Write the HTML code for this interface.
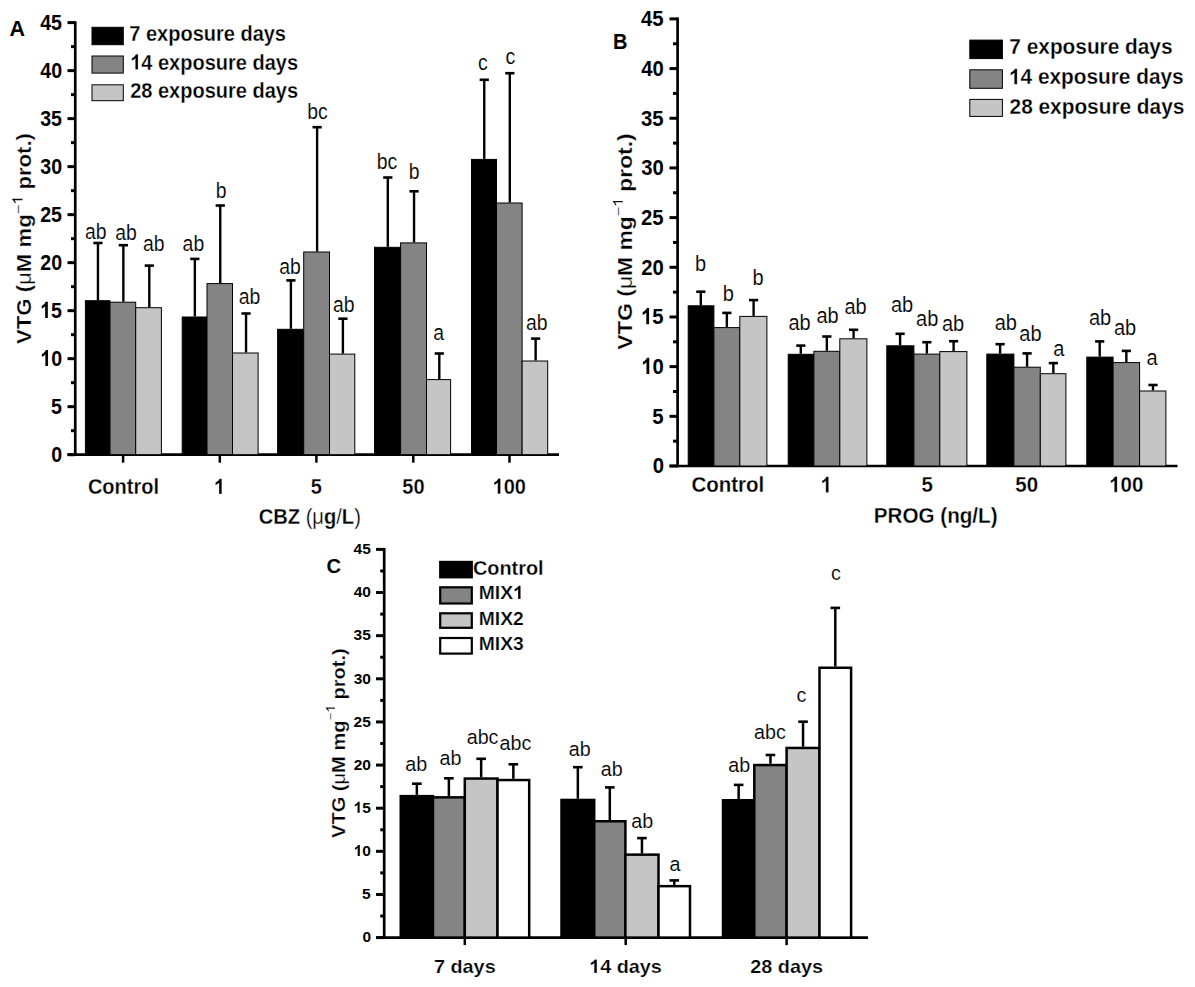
<!DOCTYPE html>
<html><head><meta charset="utf-8"><style>
html,body{margin:0;padding:0;background:#fff;}
svg{display:block;}
text{font-family:"Liberation Sans",sans-serif;stroke:#fff;stroke-width:0.25px;}
text.r{stroke-width:0.12px;}
text.nb{stroke:none;}
tspan.one{fill:none;stroke:none;}
</style></head><body>
<svg width="1195" height="987" viewBox="0 0 1195 987" font-family="Liberation Sans, sans-serif">
<rect x="0" y="0" width="1195" height="987" fill="#fff"/>
<line x1="75.25" y1="21.30" x2="75.25" y2="456.00" stroke="#000" stroke-width="2.7"/>
<line x1="67.50" y1="454.70" x2="75.25" y2="454.70" stroke="#000" stroke-width="3.0"/>
<line x1="67.50" y1="406.69" x2="75.25" y2="406.69" stroke="#000" stroke-width="3.0"/>
<line x1="67.50" y1="358.68" x2="75.25" y2="358.68" stroke="#000" stroke-width="3.0"/>
<line x1="67.50" y1="310.67" x2="75.25" y2="310.67" stroke="#000" stroke-width="3.0"/>
<line x1="67.50" y1="262.66" x2="75.25" y2="262.66" stroke="#000" stroke-width="3.0"/>
<line x1="67.50" y1="214.64" x2="75.25" y2="214.64" stroke="#000" stroke-width="3.0"/>
<line x1="67.50" y1="166.63" x2="75.25" y2="166.63" stroke="#000" stroke-width="3.0"/>
<line x1="67.50" y1="118.62" x2="75.25" y2="118.62" stroke="#000" stroke-width="3.0"/>
<line x1="67.50" y1="70.61" x2="75.25" y2="70.61" stroke="#000" stroke-width="3.0"/>
<line x1="67.50" y1="22.60" x2="75.25" y2="22.60" stroke="#000" stroke-width="3.0"/>
<line x1="71.00" y1="430.69" x2="75.25" y2="430.69" stroke="#000" stroke-width="3.0"/>
<line x1="71.00" y1="382.68" x2="75.25" y2="382.68" stroke="#000" stroke-width="3.0"/>
<line x1="71.00" y1="334.67" x2="75.25" y2="334.67" stroke="#000" stroke-width="3.0"/>
<line x1="71.00" y1="286.66" x2="75.25" y2="286.66" stroke="#000" stroke-width="3.0"/>
<line x1="71.00" y1="238.65" x2="75.25" y2="238.65" stroke="#000" stroke-width="3.0"/>
<line x1="71.00" y1="190.64" x2="75.25" y2="190.64" stroke="#000" stroke-width="3.0"/>
<line x1="71.00" y1="142.63" x2="75.25" y2="142.63" stroke="#000" stroke-width="3.0"/>
<line x1="71.00" y1="94.62" x2="75.25" y2="94.62" stroke="#000" stroke-width="3.0"/>
<line x1="71.00" y1="46.61" x2="75.25" y2="46.61" stroke="#000" stroke-width="3.0"/>
<line x1="67.50" y1="454.70" x2="559.00" y2="454.70" stroke="#000" stroke-width="2.7"/>
<line x1="123.10" y1="454.70" x2="123.10" y2="462.70" stroke="#000" stroke-width="2.5"/>
<line x1="219.80" y1="454.70" x2="219.80" y2="462.70" stroke="#000" stroke-width="2.5"/>
<line x1="316.40" y1="454.70" x2="316.40" y2="462.70" stroke="#000" stroke-width="2.5"/>
<line x1="413.30" y1="454.70" x2="413.30" y2="462.70" stroke="#000" stroke-width="2.5"/>
<line x1="509.50" y1="454.70" x2="509.50" y2="462.70" stroke="#000" stroke-width="2.5"/>
<line x1="97.95" y1="300.20" x2="97.95" y2="243.00" stroke="#000" stroke-width="2.4"/>
<line x1="93.35" y1="243.00" x2="102.55" y2="243.00" stroke="#000" stroke-width="2.6"/>
<line x1="123.35" y1="301.70" x2="123.35" y2="245.20" stroke="#000" stroke-width="2.4"/>
<line x1="118.75" y1="245.20" x2="127.95" y2="245.20" stroke="#000" stroke-width="2.6"/>
<line x1="149.30" y1="307.20" x2="149.30" y2="265.60" stroke="#000" stroke-width="2.4"/>
<line x1="144.70" y1="265.60" x2="153.90" y2="265.60" stroke="#000" stroke-width="2.6"/>
<rect x="85.40" y="300.70" width="24.60" height="154.00" fill="#000000" stroke="#000" stroke-width="1.0"/>
<rect x="110.00" y="302.20" width="25.70" height="152.50" fill="#848484" stroke="#000" stroke-width="1.0"/>
<rect x="135.70" y="307.70" width="25.70" height="147.00" fill="#c5c5c5" stroke="#000" stroke-width="1.0"/>
<line x1="194.85" y1="316.50" x2="194.85" y2="258.90" stroke="#000" stroke-width="2.4"/>
<line x1="190.25" y1="258.90" x2="199.45" y2="258.90" stroke="#000" stroke-width="2.6"/>
<line x1="220.25" y1="283.10" x2="220.25" y2="205.50" stroke="#000" stroke-width="2.4"/>
<line x1="215.65" y1="205.50" x2="224.85" y2="205.50" stroke="#000" stroke-width="2.6"/>
<line x1="246.05" y1="352.50" x2="246.05" y2="313.50" stroke="#000" stroke-width="2.4"/>
<line x1="241.45" y1="313.50" x2="250.65" y2="313.50" stroke="#000" stroke-width="2.6"/>
<rect x="182.20" y="317.00" width="24.80" height="137.70" fill="#000000" stroke="#000" stroke-width="1.0"/>
<rect x="207.00" y="283.60" width="25.50" height="171.10" fill="#848484" stroke="#000" stroke-width="1.0"/>
<rect x="232.50" y="353.00" width="25.60" height="101.70" fill="#c5c5c5" stroke="#000" stroke-width="1.0"/>
<line x1="290.90" y1="328.80" x2="290.90" y2="280.40" stroke="#000" stroke-width="2.4"/>
<line x1="286.30" y1="280.40" x2="295.50" y2="280.40" stroke="#000" stroke-width="2.6"/>
<line x1="317.10" y1="251.50" x2="317.10" y2="127.20" stroke="#000" stroke-width="2.4"/>
<line x1="312.50" y1="127.20" x2="321.70" y2="127.20" stroke="#000" stroke-width="2.6"/>
<line x1="342.90" y1="353.60" x2="342.90" y2="318.70" stroke="#000" stroke-width="2.4"/>
<line x1="338.30" y1="318.70" x2="347.50" y2="318.70" stroke="#000" stroke-width="2.6"/>
<rect x="277.60" y="329.30" width="26.10" height="125.40" fill="#000000" stroke="#000" stroke-width="1.0"/>
<rect x="303.70" y="252.00" width="25.80" height="202.70" fill="#848484" stroke="#000" stroke-width="1.0"/>
<rect x="329.50" y="354.10" width="25.30" height="100.60" fill="#c5c5c5" stroke="#000" stroke-width="1.0"/>
<line x1="387.80" y1="246.80" x2="387.80" y2="177.50" stroke="#000" stroke-width="2.4"/>
<line x1="383.20" y1="177.50" x2="392.40" y2="177.50" stroke="#000" stroke-width="2.6"/>
<line x1="414.05" y1="242.40" x2="414.05" y2="191.30" stroke="#000" stroke-width="2.4"/>
<line x1="409.45" y1="191.30" x2="418.65" y2="191.30" stroke="#000" stroke-width="2.6"/>
<line x1="439.30" y1="379.10" x2="439.30" y2="353.50" stroke="#000" stroke-width="2.4"/>
<line x1="434.70" y1="353.50" x2="443.90" y2="353.50" stroke="#000" stroke-width="2.6"/>
<rect x="374.50" y="247.30" width="26.10" height="207.40" fill="#000000" stroke="#000" stroke-width="1.0"/>
<rect x="400.60" y="242.90" width="25.90" height="211.80" fill="#848484" stroke="#000" stroke-width="1.0"/>
<rect x="426.50" y="379.60" width="24.10" height="75.10" fill="#c5c5c5" stroke="#000" stroke-width="1.0"/>
<line x1="484.25" y1="158.90" x2="484.25" y2="79.80" stroke="#000" stroke-width="2.4"/>
<line x1="479.65" y1="79.80" x2="488.85" y2="79.80" stroke="#000" stroke-width="2.6"/>
<line x1="509.80" y1="202.50" x2="509.80" y2="73.20" stroke="#000" stroke-width="2.4"/>
<line x1="505.20" y1="73.20" x2="514.40" y2="73.20" stroke="#000" stroke-width="2.6"/>
<line x1="535.65" y1="360.50" x2="535.65" y2="338.60" stroke="#000" stroke-width="2.4"/>
<line x1="531.05" y1="338.60" x2="540.25" y2="338.60" stroke="#000" stroke-width="2.6"/>
<rect x="471.50" y="159.40" width="25.00" height="295.30" fill="#000000" stroke="#000" stroke-width="1.0"/>
<rect x="496.50" y="203.00" width="25.60" height="251.70" fill="#848484" stroke="#000" stroke-width="1.0"/>
<rect x="522.10" y="361.00" width="25.60" height="93.70" fill="#c5c5c5" stroke="#000" stroke-width="1.0"/>
<text transform="translate(51.30,462.08) scale(1.0000,1.1500)" font-size="19.60" font-weight="bold" class="nb">0</text>
<text transform="translate(50.91,413.95) scale(1.0000,1.1500)" font-size="19.60" font-weight="bold" class="nb">5</text>
<text transform="translate(40.33,366.05) scale(1.0000,1.1500)" font-size="19.60" font-weight="bold" class="nb"><tspan class="one" id="one1">1</tspan>0</text>
<text transform="translate(40.13,317.93) scale(1.0000,1.1500)" font-size="19.60" font-weight="bold" class="nb"><tspan class="one" id="one2">1</tspan>5</text>
<text transform="translate(40.33,270.03) scale(1.0000,1.1500)" font-size="19.60" font-weight="bold" class="nb">20</text>
<text transform="translate(40.13,222.02) scale(1.0000,1.1500)" font-size="19.60" font-weight="bold" class="nb">25</text>
<text transform="translate(40.33,174.01) scale(1.0000,1.1500)" font-size="19.60" font-weight="bold" class="nb">30</text>
<text transform="translate(40.13,126.00) scale(1.0000,1.1500)" font-size="19.60" font-weight="bold" class="nb">35</text>
<text transform="translate(40.33,77.99) scale(1.0000,1.1500)" font-size="19.60" font-weight="bold" class="nb">40</text>
<text transform="translate(40.13,29.86) scale(1.0000,1.1500)" font-size="19.60" font-weight="bold" class="nb">45</text>
<text transform="translate(87.90,493.69) scale(1.0000,1.0600)" font-size="20.00" font-weight="bold">Control</text>
<text transform="translate(213.90,493.90) scale(1.0000,1.0600)" font-size="20.00" font-weight="bold"><tspan class="one" id="one3">1</tspan></text>
<text transform="translate(310.80,493.69) scale(1.0000,1.0600)" font-size="20.00" font-weight="bold">5</text>
<text transform="translate(402.30,493.69) scale(1.0000,1.0600)" font-size="20.00" font-weight="bold">50</text>
<text transform="translate(492.60,493.69) scale(1.0000,1.0600)" font-size="20.00" font-weight="bold"><tspan class="one" id="one4">1</tspan>00</text>
<text transform="translate(258.69,523.79) scale(1.0000,1.0900)" font-size="20.14" font-weight="bold">CBZ <tspan font-weight="normal">(&#956;</tspan>g<tspan font-weight="normal">/</tspan>L<tspan font-weight="normal">)</tspan></text>
<rect x="92.00" y="27.30" width="31.30" height="17.40" fill="#000000" stroke="#000" stroke-width="1"/>
<text transform="translate(129.30,41.00) scale(1,1.07)" font-size="20.0" font-weight="bold">7 exposure days</text>
<rect x="92.00" y="56.00" width="31.30" height="17.10" fill="#848484" stroke="#000" stroke-width="1"/>
<text transform="translate(130.20,69.60) scale(1,1.07)" font-size="20.0" font-weight="bold"><tspan class="one" id="one5">1</tspan>4 exposure days</text>
<rect x="92.00" y="84.80" width="31.30" height="15.90" fill="#c5c5c5" stroke="#000" stroke-width="1"/>
<text transform="translate(130.20,98.20) scale(1,1.07)" font-size="20.0" font-weight="bold">28 exposure days</text>
<text class="nb" transform="translate(9.50,35.78) scale(1.0000,1.0526)" font-size="21.52" font-weight="bold">A</text>
<text transform="translate(30.80,344.00) rotate(-90) scale(1.1370,1)" font-size="19.5" font-weight="bold">VTG (<tspan font-weight="normal">&#956;</tspan>M mg<tspan font-weight="normal" font-size="14.3" dy="-8.3">&#8722;<tspan class="one" id="one6">1</tspan></tspan><tspan dy="8.3"> prot.)</tspan></text>
<text transform="translate(85.02,238.58) scale(1.0000,1.1100)" font-size="19.40" class="r">ab</text>
<text transform="translate(115.32,240.28) scale(1.0000,1.1100)" font-size="19.40" class="r">ab</text>
<text transform="translate(142.92,251.08) scale(1.0000,1.1100)" font-size="19.40" class="r">ab</text>
<text transform="translate(182.62,250.78) scale(1.0000,1.1100)" font-size="19.40" class="r">ab</text>
<text transform="translate(215.64,197.90) scale(1.0000,1.1100)" font-size="19.40" class="r">b</text>
<text transform="translate(238.72,304.38) scale(1.0000,1.1100)" font-size="19.40" class="r">ab</text>
<text transform="translate(279.32,274.38) scale(1.0000,1.1100)" font-size="19.40" class="r">ab</text>
<text transform="translate(307.14,119.18) scale(1.0000,1.1100)" font-size="19.40" class="r">bc</text>
<text transform="translate(333.02,311.58) scale(1.0000,1.1100)" font-size="19.40" class="r">ab</text>
<text transform="translate(376.84,169.48) scale(1.0000,1.1100)" font-size="19.40" class="r">bc</text>
<text transform="translate(408.64,178.80) scale(1.0000,1.1100)" font-size="19.40" class="r">b</text>
<text transform="translate(433.22,340.28) scale(1.0000,1.1100)" font-size="19.40" class="r">a</text>
<text transform="translate(478.02,69.88) scale(1.0000,1.1100)" font-size="19.40" class="r">c</text>
<text transform="translate(505.52,64.18) scale(1.0000,1.1100)" font-size="19.40" class="r">c</text>
<text transform="translate(526.02,330.08) scale(1.0000,1.1100)" font-size="19.40" class="r">ab</text>
<line x1="677.60" y1="17.60" x2="677.60" y2="467.30" stroke="#000" stroke-width="2.7"/>
<line x1="669.50" y1="466.00" x2="677.60" y2="466.00" stroke="#000" stroke-width="3.0"/>
<line x1="669.50" y1="416.32" x2="677.60" y2="416.32" stroke="#000" stroke-width="3.0"/>
<line x1="669.50" y1="366.64" x2="677.60" y2="366.64" stroke="#000" stroke-width="3.0"/>
<line x1="669.50" y1="316.97" x2="677.60" y2="316.97" stroke="#000" stroke-width="3.0"/>
<line x1="669.50" y1="267.29" x2="677.60" y2="267.29" stroke="#000" stroke-width="3.0"/>
<line x1="669.50" y1="217.61" x2="677.60" y2="217.61" stroke="#000" stroke-width="3.0"/>
<line x1="669.50" y1="167.93" x2="677.60" y2="167.93" stroke="#000" stroke-width="3.0"/>
<line x1="669.50" y1="118.26" x2="677.60" y2="118.26" stroke="#000" stroke-width="3.0"/>
<line x1="669.50" y1="68.58" x2="677.60" y2="68.58" stroke="#000" stroke-width="3.0"/>
<line x1="669.50" y1="18.90" x2="677.60" y2="18.90" stroke="#000" stroke-width="3.0"/>
<line x1="673.00" y1="441.16" x2="677.60" y2="441.16" stroke="#000" stroke-width="3.0"/>
<line x1="673.00" y1="391.48" x2="677.60" y2="391.48" stroke="#000" stroke-width="3.0"/>
<line x1="673.00" y1="341.81" x2="677.60" y2="341.81" stroke="#000" stroke-width="3.0"/>
<line x1="673.00" y1="292.13" x2="677.60" y2="292.13" stroke="#000" stroke-width="3.0"/>
<line x1="673.00" y1="242.45" x2="677.60" y2="242.45" stroke="#000" stroke-width="3.0"/>
<line x1="673.00" y1="192.77" x2="677.60" y2="192.77" stroke="#000" stroke-width="3.0"/>
<line x1="673.00" y1="143.09" x2="677.60" y2="143.09" stroke="#000" stroke-width="3.0"/>
<line x1="673.00" y1="93.42" x2="677.60" y2="93.42" stroke="#000" stroke-width="3.0"/>
<line x1="673.00" y1="43.74" x2="677.60" y2="43.74" stroke="#000" stroke-width="3.0"/>
<line x1="669.50" y1="466.00" x2="1177.50" y2="466.00" stroke="#000" stroke-width="2.7"/>
<line x1="700.80" y1="305.30" x2="700.80" y2="291.70" stroke="#000" stroke-width="2.4"/>
<line x1="696.20" y1="291.70" x2="705.40" y2="291.70" stroke="#000" stroke-width="2.6"/>
<line x1="726.85" y1="327.10" x2="726.85" y2="312.90" stroke="#000" stroke-width="2.4"/>
<line x1="722.25" y1="312.90" x2="731.45" y2="312.90" stroke="#000" stroke-width="2.6"/>
<line x1="753.60" y1="315.90" x2="753.60" y2="300.10" stroke="#000" stroke-width="2.4"/>
<line x1="749.00" y1="300.10" x2="758.20" y2="300.10" stroke="#000" stroke-width="2.6"/>
<rect x="688.20" y="305.80" width="25.70" height="160.20" fill="#000000" stroke="#000" stroke-width="1.0"/>
<rect x="713.90" y="327.60" width="25.90" height="138.40" fill="#848484" stroke="#000" stroke-width="1.0"/>
<rect x="739.80" y="316.40" width="27.10" height="149.60" fill="#c5c5c5" stroke="#000" stroke-width="1.0"/>
<line x1="800.80" y1="353.80" x2="800.80" y2="345.60" stroke="#000" stroke-width="2.4"/>
<line x1="796.20" y1="345.60" x2="805.40" y2="345.60" stroke="#000" stroke-width="2.6"/>
<line x1="826.85" y1="350.80" x2="826.85" y2="336.50" stroke="#000" stroke-width="2.4"/>
<line x1="822.25" y1="336.50" x2="831.45" y2="336.50" stroke="#000" stroke-width="2.6"/>
<line x1="853.60" y1="338.30" x2="853.60" y2="329.80" stroke="#000" stroke-width="2.4"/>
<line x1="849.00" y1="329.80" x2="858.20" y2="329.80" stroke="#000" stroke-width="2.6"/>
<rect x="788.20" y="354.30" width="25.70" height="111.70" fill="#000000" stroke="#000" stroke-width="1.0"/>
<rect x="813.90" y="351.30" width="25.90" height="114.70" fill="#848484" stroke="#000" stroke-width="1.0"/>
<rect x="839.80" y="338.80" width="27.10" height="127.20" fill="#c5c5c5" stroke="#000" stroke-width="1.0"/>
<line x1="900.10" y1="345.30" x2="900.10" y2="333.80" stroke="#000" stroke-width="2.4"/>
<line x1="895.50" y1="333.80" x2="904.70" y2="333.80" stroke="#000" stroke-width="2.6"/>
<line x1="926.85" y1="353.60" x2="926.85" y2="342.20" stroke="#000" stroke-width="2.4"/>
<line x1="922.25" y1="342.20" x2="931.45" y2="342.20" stroke="#000" stroke-width="2.6"/>
<line x1="953.60" y1="351.10" x2="953.60" y2="341.20" stroke="#000" stroke-width="2.4"/>
<line x1="949.00" y1="341.20" x2="958.20" y2="341.20" stroke="#000" stroke-width="2.6"/>
<rect x="886.80" y="345.80" width="27.10" height="120.20" fill="#000000" stroke="#000" stroke-width="1.0"/>
<rect x="913.90" y="354.10" width="25.90" height="111.90" fill="#848484" stroke="#000" stroke-width="1.0"/>
<rect x="939.80" y="351.60" width="27.10" height="114.40" fill="#c5c5c5" stroke="#000" stroke-width="1.0"/>
<line x1="1000.10" y1="353.60" x2="1000.10" y2="344.20" stroke="#000" stroke-width="2.4"/>
<line x1="995.50" y1="344.20" x2="1004.70" y2="344.20" stroke="#000" stroke-width="2.6"/>
<line x1="1027.10" y1="366.70" x2="1027.10" y2="353.40" stroke="#000" stroke-width="2.4"/>
<line x1="1022.50" y1="353.40" x2="1031.70" y2="353.40" stroke="#000" stroke-width="2.6"/>
<line x1="1053.35" y1="373.20" x2="1053.35" y2="363.10" stroke="#000" stroke-width="2.4"/>
<line x1="1048.75" y1="363.10" x2="1057.95" y2="363.10" stroke="#000" stroke-width="2.6"/>
<rect x="986.80" y="354.10" width="27.10" height="111.90" fill="#000000" stroke="#000" stroke-width="1.0"/>
<rect x="1013.90" y="367.20" width="26.40" height="98.80" fill="#848484" stroke="#000" stroke-width="1.0"/>
<rect x="1040.30" y="373.70" width="25.60" height="92.30" fill="#c5c5c5" stroke="#000" stroke-width="1.0"/>
<line x1="1099.70" y1="356.60" x2="1099.70" y2="341.40" stroke="#000" stroke-width="2.4"/>
<line x1="1095.10" y1="341.40" x2="1104.30" y2="341.40" stroke="#000" stroke-width="2.6"/>
<line x1="1126.35" y1="362.10" x2="1126.35" y2="350.90" stroke="#000" stroke-width="2.4"/>
<line x1="1121.75" y1="350.90" x2="1130.95" y2="350.90" stroke="#000" stroke-width="2.6"/>
<line x1="1153.00" y1="390.50" x2="1153.00" y2="385.00" stroke="#000" stroke-width="2.4"/>
<line x1="1148.40" y1="385.00" x2="1157.60" y2="385.00" stroke="#000" stroke-width="2.6"/>
<rect x="1086.80" y="357.10" width="26.30" height="108.90" fill="#000000" stroke="#000" stroke-width="1.0"/>
<rect x="1113.10" y="362.60" width="26.50" height="103.40" fill="#848484" stroke="#000" stroke-width="1.0"/>
<rect x="1139.60" y="391.00" width="26.30" height="75.00" fill="#c5c5c5" stroke="#000" stroke-width="1.0"/>
<text transform="translate(652.65,473.44) scale(1.0000,1.1200)" font-size="20.30" font-weight="bold" class="nb">0</text>
<text transform="translate(652.24,423.65) scale(1.0000,1.1200)" font-size="20.30" font-weight="bold" class="nb">5</text>
<text transform="translate(641.28,374.09) scale(1.0000,1.1200)" font-size="20.30" font-weight="bold" class="nb"><tspan class="one" id="one7">1</tspan>0</text>
<text transform="translate(641.08,324.30) scale(1.0000,1.1200)" font-size="20.30" font-weight="bold" class="nb"><tspan class="one" id="one8">1</tspan>5</text>
<text transform="translate(641.28,274.73) scale(1.0000,1.1200)" font-size="20.30" font-weight="bold" class="nb">20</text>
<text transform="translate(641.08,225.06) scale(1.0000,1.1200)" font-size="20.30" font-weight="bold" class="nb">25</text>
<text transform="translate(641.28,175.38) scale(1.0000,1.1200)" font-size="20.30" font-weight="bold" class="nb">30</text>
<text transform="translate(641.08,125.70) scale(1.0000,1.1200)" font-size="20.30" font-weight="bold" class="nb">35</text>
<text transform="translate(641.28,76.02) scale(1.0000,1.1200)" font-size="20.30" font-weight="bold" class="nb">40</text>
<text transform="translate(641.08,26.23) scale(1.0000,1.1200)" font-size="20.30" font-weight="bold" class="nb">45</text>
<text transform="translate(691.42,492.18) scale(1.0000,1.0700)" font-size="20.50" font-weight="bold">Control</text>
<text transform="translate(820.55,492.40) scale(1.0000,1.0700)" font-size="20.50" font-weight="bold"><tspan class="one" id="one9">1</tspan></text>
<text transform="translate(921.46,492.18) scale(1.0000,1.0700)" font-size="20.50" font-weight="bold">5</text>
<text transform="translate(1015.32,492.18) scale(1.0000,1.0700)" font-size="20.50" font-weight="bold">50</text>
<text transform="translate(1109.08,492.18) scale(1.0000,1.0700)" font-size="20.50" font-weight="bold"><tspan class="one" id="one10">1</tspan>00</text>
<text transform="translate(873.75,523.1) scale(1,1.06)" font-size="20.65" font-weight="bold">PROG (ng/L)</text>
<rect x="969.80" y="40.10" width="32.60" height="18.50" fill="#000000" stroke="#000" stroke-width="1"/>
<text transform="translate(1009.37,54.40) scale(1,1.05)" font-size="20.83" font-weight="bold">7 exposure days</text>
<rect x="969.80" y="69.80" width="32.60" height="18.50" fill="#848484" stroke="#000" stroke-width="1"/>
<text transform="translate(1008.95,84.30) scale(1,1.05)" font-size="20.83" font-weight="bold"><tspan class="one" id="one11">1</tspan>4 exposure days</text>
<rect x="969.80" y="99.40" width="32.60" height="17.00" fill="#c5c5c5" stroke="#000" stroke-width="1"/>
<text transform="translate(1009.58,113.70) scale(1,1.05)" font-size="20.83" font-weight="bold">28 exposure days</text>
<text class="nb" transform="translate(613.05,48.95) scale(1.0000,1.1377)" font-size="20.00" font-weight="bold">B</text>
<text transform="translate(631.70,349.83) rotate(-90) scale(1.1520,1)" font-size="19.8" font-weight="bold">VTG (<tspan font-weight="normal">&#956;</tspan>M mg<tspan font-weight="normal" font-size="14.0" dy="-8.9">&#8722;<tspan class="one" id="one12">1</tspan></tspan><tspan dy="8.9"> prot.)</tspan></text>
<text transform="translate(694.90,271.10) scale(1.0000,1.1300)" font-size="20.00" class="r">b</text>
<text transform="translate(722.80,301.20) scale(1.0000,1.1300)" font-size="20.00" class="r">b</text>
<text transform="translate(752.60,285.30) scale(1.0000,1.1300)" font-size="20.00" class="r">b</text>
<text transform="translate(788.40,330.27) scale(1.0000,1.1300)" font-size="20.00" class="r">ab</text>
<text transform="translate(816.50,323.27) scale(1.0000,1.1300)" font-size="20.00" class="r">ab</text>
<text transform="translate(844.50,313.57) scale(1.0000,1.1300)" font-size="20.00" class="r">ab</text>
<text transform="translate(891.00,311.67) scale(1.0000,1.1300)" font-size="20.00" class="r">ab</text>
<text transform="translate(916.10,325.87) scale(1.0000,1.1300)" font-size="20.00" class="r">ab</text>
<text transform="translate(941.90,330.87) scale(1.0000,1.1300)" font-size="20.00" class="r">ab</text>
<text transform="translate(994.70,330.07) scale(1.0000,1.1300)" font-size="20.00" class="r">ab</text>
<text transform="translate(1019.30,340.97) scale(1.0000,1.1300)" font-size="20.00" class="r">ab</text>
<text transform="translate(1053.20,356.07) scale(1.0000,1.1300)" font-size="20.00" class="r">a</text>
<text transform="translate(1089.00,325.47) scale(1.0000,1.1300)" font-size="20.00" class="r">ab</text>
<text transform="translate(1113.90,334.57) scale(1.0000,1.1300)" font-size="20.00" class="r">ab</text>
<text transform="translate(1146.40,364.97) scale(1.0000,1.1300)" font-size="20.00" class="r">a</text>
<line x1="384.20" y1="548.10" x2="384.20" y2="938.90" stroke="#000" stroke-width="2.7"/>
<line x1="376.00" y1="937.60" x2="384.20" y2="937.60" stroke="#000" stroke-width="3.0"/>
<line x1="376.00" y1="894.47" x2="384.20" y2="894.47" stroke="#000" stroke-width="3.0"/>
<line x1="376.00" y1="851.33" x2="384.20" y2="851.33" stroke="#000" stroke-width="3.0"/>
<line x1="376.00" y1="808.20" x2="384.20" y2="808.20" stroke="#000" stroke-width="3.0"/>
<line x1="376.00" y1="765.07" x2="384.20" y2="765.07" stroke="#000" stroke-width="3.0"/>
<line x1="376.00" y1="721.93" x2="384.20" y2="721.93" stroke="#000" stroke-width="3.0"/>
<line x1="376.00" y1="678.80" x2="384.20" y2="678.80" stroke="#000" stroke-width="3.0"/>
<line x1="376.00" y1="635.67" x2="384.20" y2="635.67" stroke="#000" stroke-width="3.0"/>
<line x1="376.00" y1="592.53" x2="384.20" y2="592.53" stroke="#000" stroke-width="3.0"/>
<line x1="376.00" y1="549.40" x2="384.20" y2="549.40" stroke="#000" stroke-width="3.0"/>
<line x1="380.20" y1="916.03" x2="384.20" y2="916.03" stroke="#000" stroke-width="3.0"/>
<line x1="380.20" y1="872.90" x2="384.20" y2="872.90" stroke="#000" stroke-width="3.0"/>
<line x1="380.20" y1="829.77" x2="384.20" y2="829.77" stroke="#000" stroke-width="3.0"/>
<line x1="380.20" y1="786.63" x2="384.20" y2="786.63" stroke="#000" stroke-width="3.0"/>
<line x1="380.20" y1="743.50" x2="384.20" y2="743.50" stroke="#000" stroke-width="3.0"/>
<line x1="380.20" y1="700.37" x2="384.20" y2="700.37" stroke="#000" stroke-width="3.0"/>
<line x1="380.20" y1="657.23" x2="384.20" y2="657.23" stroke="#000" stroke-width="3.0"/>
<line x1="380.20" y1="614.10" x2="384.20" y2="614.10" stroke="#000" stroke-width="3.0"/>
<line x1="380.20" y1="570.97" x2="384.20" y2="570.97" stroke="#000" stroke-width="3.0"/>
<line x1="377.00" y1="937.60" x2="868.00" y2="937.60" stroke="#000" stroke-width="2.7"/>
<line x1="464.80" y1="937.60" x2="464.80" y2="945.10" stroke="#000" stroke-width="2.5"/>
<line x1="625.70" y1="937.60" x2="625.70" y2="945.10" stroke="#000" stroke-width="2.5"/>
<line x1="786.60" y1="937.60" x2="786.60" y2="945.10" stroke="#000" stroke-width="2.5"/>
<line x1="416.85" y1="794.90" x2="416.85" y2="783.70" stroke="#000" stroke-width="2.5"/>
<line x1="412.05" y1="783.70" x2="421.65" y2="783.70" stroke="#000" stroke-width="2.6"/>
<line x1="448.88" y1="796.10" x2="448.88" y2="778.30" stroke="#000" stroke-width="2.5"/>
<line x1="444.07" y1="778.30" x2="453.68" y2="778.30" stroke="#000" stroke-width="2.6"/>
<line x1="481.15" y1="777.30" x2="481.15" y2="758.80" stroke="#000" stroke-width="2.5"/>
<line x1="476.35" y1="758.80" x2="485.95" y2="758.80" stroke="#000" stroke-width="2.6"/>
<line x1="513.35" y1="778.80" x2="513.35" y2="764.30" stroke="#000" stroke-width="2.5"/>
<line x1="508.55" y1="764.30" x2="518.15" y2="764.30" stroke="#000" stroke-width="2.6"/>
<rect x="400.75" y="796.15" width="32.20" height="141.45" fill="#000000" stroke="#000" stroke-width="2.5"/>
<rect x="432.95" y="797.35" width="31.85" height="140.25" fill="#848484" stroke="#000" stroke-width="2.5"/>
<rect x="464.80" y="778.55" width="32.70" height="159.05" fill="#c5c5c5" stroke="#000" stroke-width="2.5"/>
<rect x="497.50" y="780.05" width="31.70" height="157.55" fill="#ffffff" stroke="#000" stroke-width="2.5"/>
<line x1="577.85" y1="798.70" x2="577.85" y2="767.20" stroke="#000" stroke-width="2.5"/>
<line x1="573.05" y1="767.20" x2="582.65" y2="767.20" stroke="#000" stroke-width="2.6"/>
<line x1="609.80" y1="820.00" x2="609.80" y2="787.40" stroke="#000" stroke-width="2.5"/>
<line x1="605.00" y1="787.40" x2="614.60" y2="787.40" stroke="#000" stroke-width="2.6"/>
<line x1="641.95" y1="853.40" x2="641.95" y2="838.10" stroke="#000" stroke-width="2.5"/>
<line x1="637.15" y1="838.10" x2="646.75" y2="838.10" stroke="#000" stroke-width="2.6"/>
<line x1="674.25" y1="884.90" x2="674.25" y2="880.40" stroke="#000" stroke-width="2.5"/>
<line x1="669.45" y1="880.40" x2="679.05" y2="880.40" stroke="#000" stroke-width="2.6"/>
<rect x="561.50" y="799.95" width="32.70" height="137.65" fill="#000000" stroke="#000" stroke-width="2.5"/>
<rect x="594.20" y="821.25" width="31.20" height="116.35" fill="#848484" stroke="#000" stroke-width="2.5"/>
<rect x="625.40" y="854.65" width="33.10" height="82.95" fill="#c5c5c5" stroke="#000" stroke-width="2.5"/>
<rect x="658.50" y="886.15" width="31.50" height="51.45" fill="#ffffff" stroke="#000" stroke-width="2.5"/>
<line x1="738.65" y1="799.00" x2="738.65" y2="784.90" stroke="#000" stroke-width="2.5"/>
<line x1="733.85" y1="784.90" x2="743.45" y2="784.90" stroke="#000" stroke-width="2.6"/>
<line x1="770.45" y1="763.80" x2="770.45" y2="755.00" stroke="#000" stroke-width="2.5"/>
<line x1="765.65" y1="755.00" x2="775.25" y2="755.00" stroke="#000" stroke-width="2.6"/>
<line x1="803.05" y1="746.70" x2="803.05" y2="721.70" stroke="#000" stroke-width="2.5"/>
<line x1="798.25" y1="721.70" x2="807.85" y2="721.70" stroke="#000" stroke-width="2.6"/>
<line x1="835.30" y1="666.50" x2="835.30" y2="607.90" stroke="#000" stroke-width="2.5"/>
<line x1="830.50" y1="607.90" x2="840.10" y2="607.90" stroke="#000" stroke-width="2.6"/>
<rect x="723.00" y="800.25" width="31.30" height="137.35" fill="#000000" stroke="#000" stroke-width="2.5"/>
<rect x="754.30" y="765.05" width="32.30" height="172.55" fill="#848484" stroke="#000" stroke-width="2.5"/>
<rect x="786.60" y="747.95" width="32.90" height="189.65" fill="#c5c5c5" stroke="#000" stroke-width="2.5"/>
<rect x="819.50" y="667.75" width="31.60" height="269.85" fill="#ffffff" stroke="#000" stroke-width="2.5"/>
<text transform="translate(362.40,942.35) scale(1.0000,1.0000)" font-size="15.50" font-weight="bold" class="nb">0</text>
<text transform="translate(362.09,899.14) scale(1.0000,1.0000)" font-size="15.50" font-weight="bold" class="nb">5</text>
<text transform="translate(353.72,856.08) scale(1.0000,1.0000)" font-size="15.50" font-weight="bold" class="nb"><tspan class="one" id="one13">1</tspan>0</text>
<text transform="translate(353.56,812.87) scale(1.0000,1.0000)" font-size="15.50" font-weight="bold" class="nb"><tspan class="one" id="one14">1</tspan>5</text>
<text transform="translate(353.72,769.81) scale(1.0000,1.0000)" font-size="15.50" font-weight="bold" class="nb">20</text>
<text transform="translate(353.56,726.68) scale(1.0000,1.0000)" font-size="15.50" font-weight="bold" class="nb">25</text>
<text transform="translate(353.72,683.55) scale(1.0000,1.0000)" font-size="15.50" font-weight="bold" class="nb">30</text>
<text transform="translate(353.56,640.41) scale(1.0000,1.0000)" font-size="15.50" font-weight="bold" class="nb">35</text>
<text transform="translate(353.72,597.28) scale(1.0000,1.0000)" font-size="15.50" font-weight="bold" class="nb">40</text>
<text transform="translate(353.56,554.07) scale(1.0000,1.0000)" font-size="15.50" font-weight="bold" class="nb">45</text>
<text transform="translate(433.96,972.9) scale(1,0.95)" font-size="19.83" font-weight="bold">7 days</text>
<text transform="translate(589.11,972.9) scale(1,0.95)" font-size="19.83" font-weight="bold"><tspan class="one" id="one15">1</tspan>4 days</text>
<text transform="translate(750.31,972.9) scale(1,0.95)" font-size="19.83" font-weight="bold">28 days</text>
<rect x="439.10" y="560.80" width="33.80" height="17.60" fill="#000000"/>
<rect x="440.20" y="587.30" width="31.60" height="16.20" fill="#848484" stroke="#000" stroke-width="2.2"/>
<rect x="440.20" y="613.30" width="31.60" height="14.50" fill="#c5c5c5" stroke="#000" stroke-width="2.2"/>
<rect x="440.20" y="638.00" width="31.60" height="15.60" fill="#ffffff" stroke="#000" stroke-width="2.2"/>
<text transform="translate(472.90,574.8) scale(1,1.06)" font-size="19.9" font-weight="bold">Control</text>
<text transform="translate(478.75,599.1) scale(1,0.965)" font-size="19.3" font-weight="bold">MIX<tspan class="one" id="one16">1</tspan></text>
<text transform="translate(478.75,624.6) scale(1,0.965)" font-size="19.3" font-weight="bold">MIX2</text>
<text transform="translate(478.75,650.1) scale(1,0.965)" font-size="19.3" font-weight="bold">MIX3</text>
<text class="nb" transform="translate(326.44,572.85) scale(1.0000,0.9994)" font-size="20.15" font-weight="bold">C</text>
<text transform="translate(344.50,838.00) rotate(-90) scale(1.0570,1)" font-size="19.0" font-weight="bold">VTG (<tspan font-weight="normal">&#956;</tspan>M mg<tspan font-weight="normal" font-size="12.8" dy="-9.5">&#8722;<tspan class="one" id="one17">1</tspan></tspan><tspan dy="9.5"> prot.)</tspan></text>
<text transform="translate(405.31,770.91) scale(1.0000,0.9800)" font-size="19.70" class="r">ab</text>
<text transform="translate(439.61,764.51) scale(1.0000,0.9800)" font-size="19.70" class="r">ab</text>
<text transform="translate(466.71,744.11) scale(1.0000,0.9800)" font-size="19.70" class="r">abc</text>
<text transform="translate(499.51,749.61) scale(1.0000,0.9800)" font-size="19.70" class="r">abc</text>
<text transform="translate(568.81,755.91) scale(1.0000,0.9800)" font-size="19.70" class="r">ab</text>
<text transform="translate(600.71,776.11) scale(1.0000,0.9800)" font-size="19.70" class="r">ab</text>
<text transform="translate(631.31,827.81) scale(1.0000,0.9800)" font-size="19.70" class="r">ab</text>
<text transform="translate(669.61,871.31) scale(1.0000,0.9800)" font-size="19.70" class="r">a</text>
<text transform="translate(728.31,771.51) scale(1.0000,0.9800)" font-size="19.70" class="r">ab</text>
<text transform="translate(754.01,739.11) scale(1.0000,0.9800)" font-size="19.70" class="r">abc</text>
<text transform="translate(796.41,701.91) scale(1.0000,0.9800)" font-size="19.70" class="r">c</text>
<text transform="translate(831.11,580.41) scale(1.0000,0.9800)" font-size="19.70" class="r">c</text>
<path transform="translate(40.33,366.05) scale(1.0000,1.1500) translate(0.000,0.000) scale(0.009570,-0.009570)" d="M806 0H525V1059Q371 915 162 846V1101Q272 1137 401 1237Q530 1337 578 1466H806Z" fill="#000"/>
<path transform="translate(40.13,317.93) scale(1.0000,1.1500) translate(0.000,0.000) scale(0.009570,-0.009570)" d="M806 0H525V1059Q371 915 162 846V1101Q272 1137 401 1237Q530 1337 578 1466H806Z" fill="#000"/>
<path transform="translate(213.90,493.90) scale(1.0000,1.0600) translate(0.000,0.000) scale(0.009766,-0.009766)" d="M806 0H525V1059Q371 915 162 846V1101Q272 1137 401 1237Q530 1337 578 1466H806Z" fill="#000" stroke="#fff" stroke-width="0.25" vector-effect="non-scaling-stroke"/>
<path transform="translate(492.60,493.69) scale(1.0000,1.0600) translate(0.000,0.000) scale(0.009766,-0.009766)" d="M806 0H525V1059Q371 915 162 846V1101Q272 1137 401 1237Q530 1337 578 1466H806Z" fill="#000" stroke="#fff" stroke-width="0.25" vector-effect="non-scaling-stroke"/>
<path transform="translate(130.20,69.60) scale(1,1.07) translate(0.000,0.000) scale(0.009766,-0.009766)" d="M806 0H525V1059Q371 915 162 846V1101Q272 1137 401 1237Q530 1337 578 1466H806Z" fill="#000" stroke="#fff" stroke-width="0.25" vector-effect="non-scaling-stroke"/>
<path transform="translate(30.80,344.00) rotate(-90) scale(1.1370,1) translate(122.409,-8.300) scale(0.006982,-0.006982)" d="M763 0H583V1147Q518 1085 412 1023Q306 961 222 930V1104Q373 1175 486 1276Q599 1377 646 1472H763Z" fill="#000" stroke="#fff" stroke-width="0.12" vector-effect="non-scaling-stroke"/>
<path transform="translate(641.28,374.09) scale(1.0000,1.1200) translate(0.000,0.000) scale(0.009912,-0.009912)" d="M806 0H525V1059Q371 915 162 846V1101Q272 1137 401 1237Q530 1337 578 1466H806Z" fill="#000"/>
<path transform="translate(641.08,324.30) scale(1.0000,1.1200) translate(0.000,0.000) scale(0.009912,-0.009912)" d="M806 0H525V1059Q371 915 162 846V1101Q272 1137 401 1237Q530 1337 578 1466H806Z" fill="#000"/>
<path transform="translate(820.55,492.40) scale(1.0000,1.0700) translate(0.000,0.000) scale(0.010010,-0.010010)" d="M806 0H525V1059Q371 915 162 846V1101Q272 1137 401 1237Q530 1337 578 1466H806Z" fill="#000" stroke="#fff" stroke-width="0.25" vector-effect="non-scaling-stroke"/>
<path transform="translate(1109.08,492.18) scale(1.0000,1.0700) translate(0.000,0.000) scale(0.010010,-0.010010)" d="M806 0H525V1059Q371 915 162 846V1101Q272 1137 401 1237Q530 1337 578 1466H806Z" fill="#000" stroke="#fff" stroke-width="0.25" vector-effect="non-scaling-stroke"/>
<path transform="translate(1008.95,84.30) scale(1,1.05) translate(0.000,0.000) scale(0.010171,-0.010171)" d="M806 0H525V1059Q371 915 162 846V1101Q272 1137 401 1237Q530 1337 578 1466H806Z" fill="#000" stroke="#fff" stroke-width="0.25" vector-effect="non-scaling-stroke"/>
<path transform="translate(631.70,349.83) rotate(-90) scale(1.1520,1) translate(124.038,-8.900) scale(0.006836,-0.006836)" d="M763 0H583V1147Q518 1085 412 1023Q306 961 222 930V1104Q373 1175 486 1276Q599 1377 646 1472H763Z" fill="#000" stroke="#fff" stroke-width="0.12" vector-effect="non-scaling-stroke"/>
<path transform="translate(353.72,856.08) scale(1.0000,1.0000) translate(0.000,0.000) scale(0.007568,-0.007568)" d="M806 0H525V1059Q371 915 162 846V1101Q272 1137 401 1237Q530 1337 578 1466H806Z" fill="#000"/>
<path transform="translate(353.56,812.87) scale(1.0000,1.0000) translate(0.000,0.000) scale(0.007568,-0.007568)" d="M806 0H525V1059Q371 915 162 846V1101Q272 1137 401 1237Q530 1337 578 1466H806Z" fill="#000"/>
<path transform="translate(589.11,972.9) scale(1,0.95) translate(0.000,0.000) scale(0.009683,-0.009683)" d="M806 0H525V1059Q371 915 162 846V1101Q272 1137 401 1237Q530 1337 578 1466H806Z" fill="#000" stroke="#fff" stroke-width="0.25" vector-effect="non-scaling-stroke"/>
<path transform="translate(478.75,599.1) scale(1,0.965) translate(34.298,0.000) scale(0.009424,-0.009424)" d="M806 0H525V1059Q371 915 162 846V1101Q272 1137 401 1237Q530 1337 578 1466H806Z" fill="#000" stroke="#fff" stroke-width="0.25" vector-effect="non-scaling-stroke"/>
<path transform="translate(344.50,838.00) rotate(-90) scale(1.0570,1) translate(118.619,-9.500) scale(0.006250,-0.006250)" d="M763 0H583V1147Q518 1085 412 1023Q306 961 222 930V1104Q373 1175 486 1276Q599 1377 646 1472H763Z" fill="#000" stroke="#fff" stroke-width="0.12" vector-effect="non-scaling-stroke"/>
</svg>
</body></html>
